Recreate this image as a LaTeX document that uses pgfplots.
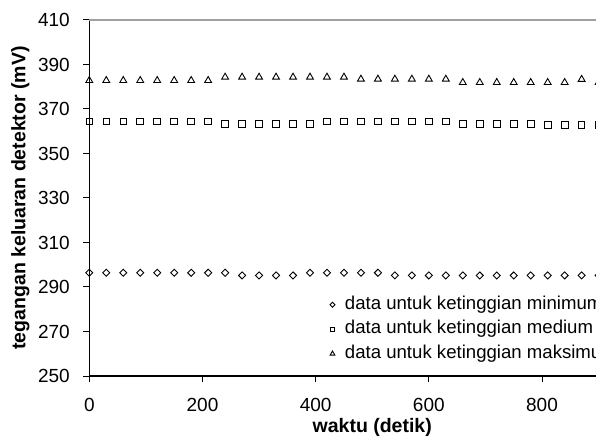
\documentclass[border=0pt]{standalone}
\usepackage{fontspec}
\setmainfont{Liberation Sans}
\usepackage{pgfplots}
\pgfplotsset{compat=1.18}
\definecolor{topgray}{RGB}{160,160,160}
\begin{document}
\begin{tikzpicture}
\useasboundingbox (0,0) rectangle (596bp,438bp);
\clip (0,0) rectangle (596bp,438bp);
\begin{axis}[
 at={(89.3bp,62bp)}, anchor=south west,
 scale only axis, width=565.9bp, height=356bp,
 xmin=0, xmax=1000, ymin=250, ymax=410,
 xtick={0,200,...,1000}, ytick={250,270,...,410},
 axis x line*=bottom, axis y line*=left,
 axis line style={-, line width=1.1bp, black},
 tick align=outside, major tick length=6bp,
 tick style={black, line width=1bp},
 /pgf/number format/assume math mode=true,
 ticklabel style={font=\fontsize{19bp}{22bp}\selectfont},
 xticklabel style={yshift=-13bp},
 yticklabel style={xshift=-10bp},
 xlabel={waktu (detik)}, ylabel={tegangan keluaran detektor (mV)},
 every axis x label/.style={at={(axis description cs:0.5,-0.1433)}, anchor=center, font=\fontsize{19.5bp}{23bp}\selectfont\bfseries},
 every axis y label/.style={at={(axis description cs:-0.1219,0.5)}, anchor=center, rotate=90, font=\fontsize{19.5bp}{23bp}\selectfont\bfseries},
 clip=false,
 legend style={at={(axis cs:425,271)}, anchor=west, draw=none, fill=none, inner sep=0pt, row sep=7.5bp, column sep=10bp,
   nodes={inner sep=0pt, font=\fontsize{18.6bp}{22bp}\selectfont, text height=13bp, text depth=4bp}},
 legend cell align=left,
 legend image code/.code={\draw[#1, every mark/.append style={scale=0.7}] plot coordinates {(0bp,0bp)};},
]
\addplot[black, only marks, mark=square, mark size=2.5bp, mark options={rotate=45, line width=0.9bp}] coordinates {
(0,296.4)(30,296.4)(60,296.4)(90,296.4)(120,296.4)(150,296.4)(180,296.4)(210,296.4)(240,296.4)(270,295.2)(300,295.2)(330,295.2)(360,295.2)(390,296.4)(420,296.4)(450,296.4)(480,296.4)(510,296.4)(540,295.2)(570,295.2)(600,295.2)(630,295.2)(660,295.2)(690,295.2)(720,295.2)(750,295.2)(780,295.2)(810,295.2)(840,295.2)(870,295.2)(900,295.2)};
\addlegendentry{data untuk ketinggian minimum}
\addplot[black, only marks, mark=square, mark size=3.3bp, mark options={line width=0.9bp}] coordinates {
(0,364.4)(30,364.4)(60,364.4)(90,364.4)(120,364.4)(150,364.4)(180,364.4)(210,364.4)(240,363.4)(270,363.4)(300,363.4)(330,363.4)(360,363.4)(390,363.4)(420,364.4)(450,364.4)(480,364.4)(510,364.4)(540,364.4)(570,364.4)(600,364.4)(630,364.4)(660,363.4)(690,363.4)(720,363.4)(750,363.4)(780,363.4)(810,362.8)(840,362.8)(870,362.8)(900,362.8)};
\addlegendentry{data untuk ketinggian medium}
\addplot[black, only marks, mark=triangle, mark size=4bp, mark options={line width=0.9bp}] coordinates {
(0,382.8)(30,382.8)(60,382.8)(90,382.8)(120,382.8)(150,382.8)(180,382.8)(210,382.8)(240,384.3)(270,384.3)(300,384.3)(330,384.3)(360,384.3)(390,384.3)(420,384.3)(450,384.3)(480,383.4)(510,383.4)(540,383.4)(570,383.4)(600,383.4)(630,383.4)(660,381.9)(690,381.9)(720,381.9)(750,381.9)(780,381.9)(810,381.9)(840,381.9)(870,383.3)(900,381.9)};
\addlegendentry{data untuk ketinggian maksimum}
\draw[topgray, line width=1.5bp] (rel axis cs:0,1) -- (rel axis cs:1,1);
\end{axis}
\end{tikzpicture}
\end{document}
